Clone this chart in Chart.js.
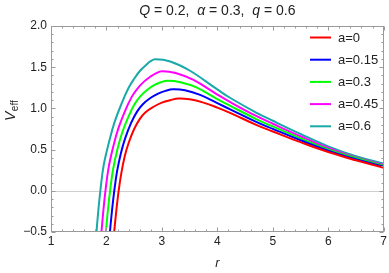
<!DOCTYPE html>
<html><head><meta charset="utf-8">
<script src="https://cdn.jsdelivr.net/npm/chart.js@4.4.0/dist/chart.umd.min.js"></script>
<style>html,body{margin:0;padding:0;background:#fff;overflow:hidden}</style>
</head><body>
<canvas id="c" width="389" height="273"></canvas>
<script>
// ---- data ----
const seriesLabels = ['a=0', 'a=0.15', 'a=0.3', 'a=0.45', 'a=0.6'];
const seriesColors = ['#ff0000', '#0000ff', '#00ff00', '#ff00ff', '#19a9a9'];

const rA0 = [2.06,2.10,2.14,2.18,2.22,2.27,2.33,2.40,2.50,2.60,2.70,2.85,3.00,3.15,3.30,3.50,3.75,4.00,4.25,4.70,5.00,5.50,6.00,6.50,7.00];
const vA0 = [-1.25,-0.85,-0.50,-0.23,0.00,0.22,0.42,0.58,0.75,0.87,0.95,1.02,1.07,1.10,1.12,1.11,1.07,1.01,0.94,0.80,0.72,0.59,0.47,0.37,0.28];

const rA015 = [1.983,2.023,2.063,2.102,2.141,2.193,2.263,2.339,2.447,2.552,2.652,2.792,2.933,3.064,3.199,3.416,3.69,4.00,4.25,4.70,5.00,5.50,6.00,6.50,7.00];
const vA015 = [-1.25,-0.85,-0.50,-0.23,0.00,0.242,0.463,0.64,0.827,0.961,1.048,1.126,1.180,1.213,1.232,1.220,1.164,1.063,0.983,0.836,0.751,0.614,0.487,0.382,0.292];

const rA03 = [1.910,1.950,1.990,2.027,2.065,2.120,2.198,2.280,2.397,2.506,2.606,2.737,2.868,2.981,3.103,3.335,3.632,4.00,4.25,4.70,5.00,5.50,6.00,6.50,7.00];
const vA03 = [-1.25,-0.85,-0.50,-0.23,0.00,0.262,0.505,0.698,0.900,1.049,1.143,1.227,1.286,1.318,1.335,1.318,1.253,1.113,1.025,0.871,0.781,0.637,0.503,0.398,0.304];

const rA045 = [1.830,1.870,1.910,1.946,1.982,2.040,2.128,2.216,2.342,2.456,2.556,2.677,2.798,2.891,2.998,3.248,3.570,4.00,4.25,4.70,5.00,5.50,6.00,6.50,7.00];
const vA045 = [-1.25,-0.85,-0.50,-0.23,0.00,0.285,0.550,0.760,0.980,1.140,1.238,1.325,1.388,1.425,1.452,1.430,1.345,1.168,1.070,0.908,0.814,0.662,0.520,0.406,0.316];

const rA06 = [1.74,1.78,1.82,1.855,1.89,1.95,2.05,2.145,2.28,2.40,2.50,2.61,2.72,2.79,2.88,3.15,3.50,4.00,4.25,4.70,5.00,5.50,6.00,6.50,7.00];
const vA06 = [-1.25,-0.85,-0.50,-0.23,0.00,0.31,0.60,0.83,1.07,1.25,1.36,1.46,1.53,1.57,1.595,1.57,1.46,1.23,1.12,0.95,0.85,0.69,0.54,0.42,0.33];

const xMin = 1, xMax = 7, xStep = 1, xMinor = 0.2;
const yMin = -0.5, yMax = 2.0, yStep = 0.5, yMinor = 0.1;
const xTitle = 'r';
const yTitleMain = 'V', yTitleSub = 'eff';
const titleParts = [
  {t: 'Q', i: true}, {t: ' = 0.2,  ', i: false},
  {t: 'α', i: true}, {t: ' = 0.3,  ', i: false},
  {t: 'q', i: true}, {t: ' = 0.6', i: false}
];

const rSets = [rA0, rA015, rA03, rA045, rA06];
const vSets = [vA0, vA015, vA03, vA045, vA06];

const FONT = '"Liberation Sans", Arial, Helvetica, sans-serif';
const frameColor = '#9a9a9a';

const datasets = seriesLabels.map((lab, k) => ({
  label: lab,
  data: rSets[k].map((r, j) => ({x: r, y: vSets[k][j]})),
  borderColor: seriesColors[k],
  backgroundColor: seriesColors[k],
  borderWidth: 2,
  pointRadius: 0,
  fill: false,
  tension: 0.4
}));

const decor = {
  id: 'decor',
  beforeDatasetsDraw(chart) {
    const {ctx, chartArea: a, scales: {y}} = chart;
    const y0 = Math.round(y.getPixelForValue(0)) + 0.5;
    ctx.save();
    ctx.strokeStyle = '#cfcfcf';
    ctx.lineWidth = 1;
    ctx.beginPath(); ctx.moveTo(a.left, y0); ctx.lineTo(a.right, y0); ctx.stroke();
    ctx.restore();
  },
  afterDatasetsDraw(chart) {
    const {ctx, chartArea: a, scales: {x, y}} = chart;
    ctx.save();
    ctx.strokeStyle = frameColor;
    ctx.lineWidth = 1;
    const L = Math.round(a.left) + 0.5, R = Math.round(a.right) - 0.5;
    const T = Math.round(a.top) + 0.5, B = Math.round(a.bottom) - 0.5;
    ctx.strokeRect(L, T, R - L, B - T);
    ctx.beginPath();
    const nX = Math.round((xMax - xMin) / xMinor);
    for (let i = 0; i <= nX; i++) {
      const v = xMin + i * xMinor;
      const major = Math.abs(v - Math.round(v / xStep) * xStep) < 1e-6;
      const len = major ? 4 : 2;
      const px = Math.round(x.getPixelForValue(v)) + 0.5;
      ctx.moveTo(px, B); ctx.lineTo(px, B - len);
      ctx.moveTo(px, T); ctx.lineTo(px, T + len);
    }
    const nY = Math.round((yMax - yMin) / yMinor);
    for (let i = 0; i <= nY; i++) {
      const v = yMin + i * yMinor;
      const major = Math.abs(v - Math.round(v / yStep) * yStep) < 1e-6;
      const len = major ? 4 : 2;
      const py = Math.round(y.getPixelForValue(v)) + 0.5;
      ctx.moveTo(L, py); ctx.lineTo(L + len, py);
      ctx.moveTo(R, py); ctx.lineTo(R - len, py);
    }
    ctx.stroke();
    ctx.restore();
  },
  afterDraw(chart) {
    const {ctx, chartArea: a} = chart;
    ctx.save();
    const fs = 14;
    let total = 0;
    const widths = titleParts.map(p => {
      ctx.font = (p.i ? 'italic ' : '') + fs + 'px ' + FONT;
      const w = ctx.measureText(p.t).width; total += w; return w;
    });
    let tx = (a.left + a.right) / 2 - total / 2;
    ctx.fillStyle = '#222';
    ctx.textBaseline = 'alphabetic';
    ctx.textAlign = 'left';
    titleParts.forEach((p, k) => {
      ctx.font = (p.i ? 'italic ' : '') + fs + 'px ' + FONT;
      ctx.fillText(p.t, tx, 15);
      tx += widths[k];
    });
    ctx.translate(15, 121);
    ctx.rotate(-Math.PI / 2);
    ctx.font = 'italic 14px ' + FONT;
    ctx.fillText(yTitleMain, 0, 0);
    const wv = ctx.measureText(yTitleMain).width;
    ctx.font = '10px ' + FONT;
    ctx.fillText(yTitleSub, wv + 0.5, 3);
    ctx.restore();

    ctx.save();
    ctx.font = '13px ' + FONT;
    ctx.textBaseline = 'middle';
    ctx.textAlign = 'left';
    seriesLabels.forEach((lab, k) => {
      const ly = 37.5 + k * 22.2;
      ctx.strokeStyle = seriesColors[k];
      ctx.lineWidth = 2;
      ctx.beginPath(); ctx.moveTo(310, ly); ctx.lineTo(331, ly); ctx.stroke();
      ctx.fillStyle = '#222';
      ctx.fillText(lab, 338, ly + 0.5);
    });
    ctx.restore();
  }
};

new Chart(document.getElementById('c'), {
  type: 'line',
  data: {datasets},
  options: {
    responsive: false,
    animation: false,
    devicePixelRatio: 1,
    layout: {padding: {top: 26, right: 5, left: 0, bottom: 0}},
    plugins: {legend: {display: false}, tooltip: {enabled: false}, title: {display: false}},
    scales: {
      x: {
        type: 'linear', min: xMin, max: xMax,
        ticks: {stepSize: xStep, color: '#222', font: {family: FONT, size: 12}, padding: 2, maxRotation: 0,
                callback: v => String(v)},
        grid: {display: false, drawTicks: false},
        border: {display: false},
        title: {display: true, text: xTitle, color: '#222', font: {family: FONT, size: 13, style: 'italic'}, padding: {top: 0, bottom: 2}},
        afterFit(s) { s.height = 41; }
      },
      y: {
        type: 'linear', min: yMin, max: yMax,
        ticks: {stepSize: yStep, color: '#222', font: {family: FONT, size: 12}, padding: 4,
                callback: v => (v < 0 ? '\u2212' : '') + Math.abs(v).toFixed(1)},
        grid: {display: false, drawTicks: false},
        border: {display: false},
        afterFit(s) { s.width = 51; }
      }
    }
  },
  plugins: [decor]
});
</script>
</body></html>
